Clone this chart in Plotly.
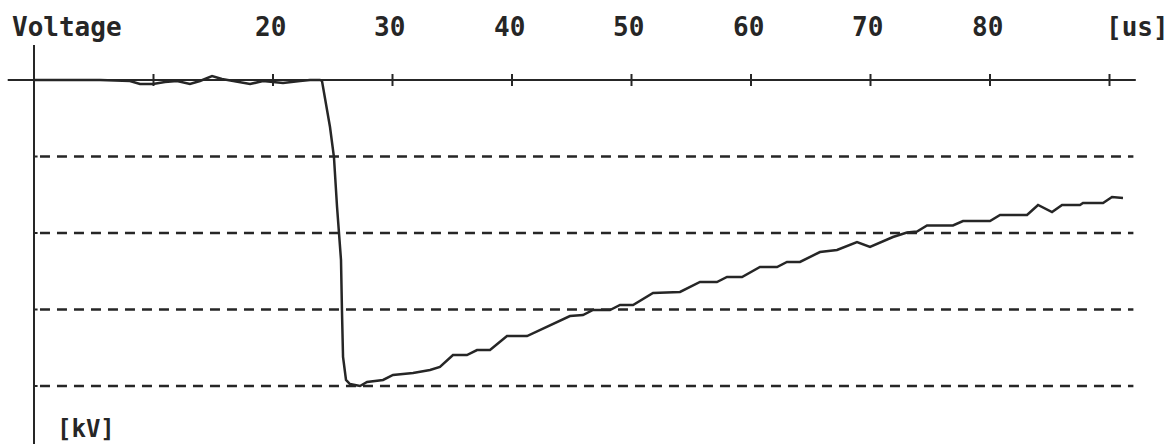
import plotly.graph_objects as go

# ---- data (time in microseconds, voltage in kV) ----
time_us = [0, 2.18, 5.52, 8.03, 8.87, 9.96, 10.96, 11.97, 13.05, 13.89, 14.90, 15.73,
           16.57, 18.08, 19.16, 20.84, 22.26, 23.10, 23.93, 24.10, 24.77, 25.10, 25.36,
           25.52, 25.69, 25.77, 25.86, 26.11, 26.44, 27.28, 27.87, 29.21, 30.04, 31.72,
           33.14, 33.97, 35.06, 36.23, 37.07, 38.16, 39.58, 41.26, 42.34, 43.43, 44.85,
           45.94, 46.78, 48.20, 49.04, 50.13, 51.80, 54.06, 55.73, 57.15, 57.99, 59.25,
           60.75, 62.18, 63.01, 64.10, 65.77, 67.20, 68.87, 69.96, 71.88, 73.05, 73.89,
           74.73, 76.90, 77.74, 80.00, 80.84, 83.10, 84.02, 85.19, 86.03, 87.53, 87.78,
           89.46, 90.21, 91.13]
voltage_kv = [0, 0, 0, -0.26, -1.05, -1.05, -0.52, -0.26, -1.05, -0.26, 1.05, 0.26,
              -0.26, -1.05, -0.26, -0.78, -0.26, 0, 0, -0.26, -12.29, -20.13, -33.20,
              -40.0, -47.06, -60.13, -72.42, -78.43, -79.48, -80.0, -78.95, -78.43, -77.12, -76.60,
              -75.82, -75.03, -71.90, -71.90, -70.59, -70.59, -66.93, -66.93, -65.36, -63.79, -61.70,
              -61.44, -60.13, -60.13, -58.82, -58.82, -55.69, -55.42, -52.81, -52.81, -51.50, -51.50,
              -48.89, -48.89, -47.58, -47.58, -44.97, -44.44, -42.35, -43.66, -41.05, -39.87, -39.61,
              -38.04, -38.04, -36.86, -36.86, -35.29, -35.29, -32.68, -34.51, -32.68, -32.68, -32.16,
              -32.16, -30.59, -30.85]

x_ticks = [10, 20, 30, 40, 50, 60, 70, 80, 90]
x_tick_labels = ["", "20", "30", "40", "50", "60", "70", "80", ""]
grid_levels_kv = [-20, -40, -60, -80]

# ---- geometry ----
W, H = 1174, 444
px_per_us = 11.95
px_per_kv = 3.825
x0_px, y0_px = 34, 80
x_range = [(0 - x0_px) / px_per_us, (W - x0_px) / px_per_us]
y_range = [(y0_px - H) / px_per_kv, y0_px / px_per_kv]

ink = "#262626"
font = dict(family="DejaVu Sans Mono", size=26, color=ink, weight="bold")
font_small = dict(family="DejaVu Sans Mono", size=24, color=ink, weight="bold")

fig = go.Figure()
fig.add_trace(go.Scatter(x=time_us, y=voltage_kv, mode="lines",
                         line=dict(color=ink, width=2.5), hoverinfo="skip",
                         showlegend=False))

shapes = []
# time axis line at 0 kV
shapes.append(dict(type="line", xref="x", yref="y", x0=-2.2, x1=92.2, y0=0, y1=0,
                   line=dict(color=ink, width=2)))
# voltage axis line at 0 us
shapes.append(dict(type="line", xref="x", yref="y", x0=0, x1=0,
                   y0=y_range[0], y1=(y0_px - 45) / px_per_kv,
                   line=dict(color=ink, width=2)))
# tick marks
tick_half = 6 / px_per_kv
for t in x_ticks:
    shapes.append(dict(type="line", xref="x", yref="y", x0=t, x1=t,
                       y0=-tick_half, y1=tick_half, line=dict(color=ink, width=2)))
# dashed grid levels
for g in grid_levels_kv:
    shapes.append(dict(type="line", xref="x", yref="y", x0=0.5, x1=92.0, y0=g, y1=g,
                       line=dict(color=ink, width=2.5, dash="10px,7px")))
    shapes.append(dict(type="line", xref="x", yref="y", x0=0, x1=0.3, y0=g, y1=g,
                       line=dict(color=ink, width=2)))

label_y = 1 - 27 / H
annotations = []
for t, lab in zip(x_ticks, x_tick_labels):
    if lab:
        annotations.append(dict(x=t, y=label_y, xref="x", yref="paper", text=lab,
                                showarrow=False, font=font, xshift=-3,
                                xanchor="center", yanchor="middle"))
annotations.append(dict(x=10 / W, y=label_y, xref="paper", yref="paper", text="Voltage",
                        showarrow=False, font=font, xanchor="left", yanchor="middle"))
annotations.append(dict(x=1171 / W, y=label_y, xref="paper", yref="paper", text="[us]",
                        showarrow=False, font=font, xanchor="right", yanchor="middle"))
annotations.append(dict(x=55 / W, y=1 - 429 / H, xref="paper", yref="paper", text="[kV]",
                        showarrow=False, font=font_small, xanchor="left", yanchor="middle"))

fig.update_layout(
    width=W, height=H,
    margin=dict(l=0, r=0, t=0, b=0),
    paper_bgcolor="white", plot_bgcolor="white",
    xaxis=dict(range=x_range, visible=False, fixedrange=True),
    yaxis=dict(range=y_range, visible=False, fixedrange=True),
    shapes=shapes, annotations=annotations,
)

fig.write_html("out.html", config={"displayModeBar": False},
               post_script="document.body.style.margin='0';document.body.style.padding='0';")
